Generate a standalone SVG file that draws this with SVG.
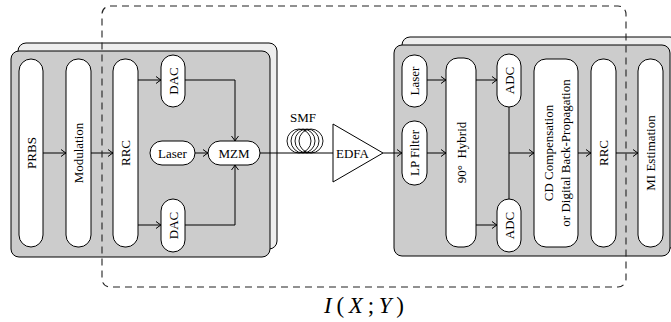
<svg xmlns="http://www.w3.org/2000/svg" width="671" height="322" viewBox="0 0 671 322">
<defs>
<style>
.back{fill:#eeeeee;stroke:#000;stroke-width:1}
.front{fill:#cccccc;stroke:#000;stroke-width:1}
.node{fill:#fff;stroke:#000;stroke-width:1}
.lbl{font-family:"Liberation Serif","Times New Roman",serif;font-size:13px;fill:#000}
.conn{fill:none;stroke:#000;stroke-width:1}
.dash{fill:none;stroke:#222;stroke-width:1.1;stroke-dasharray:7 5}
</style>
<marker id="arr" viewBox="-6 -5 8 10" markerWidth="8" markerHeight="10" refX="0" refY="0" orient="auto" markerUnits="userSpaceOnUse">
<path d="M-5,-3.5 Q-1.5,-0.8 0,0 Q-1.5,0.8 -5,3.5" fill="none" stroke="#000" stroke-width="1"/>
</marker>
</defs>

<g id="tx-panel">
<rect class="back" x="18" y="43" width="259" height="206" rx="8"/>
<rect class="front" x="11" y="51" width="259" height="206" rx="8"/>
</g>
<g id="rx-panel">
<rect class="back" x="402" y="37" width="276" height="211" rx="8"/>
<rect class="front" x="394" y="45" width="276" height="211" rx="8"/>
</g>

<g id="connectors">
<line class="conn" x1="43" y1="153" x2="66" y2="153" marker-end="url(#arr)"/>
<line class="conn" x1="91" y1="153" x2="113" y2="153" marker-end="url(#arr)"/>
<line class="conn" x1="138" y1="80" x2="161" y2="80" marker-end="url(#arr)"/>
<line class="conn" x1="138" y1="225" x2="161" y2="225" marker-end="url(#arr)"/>
<polyline class="conn" points="185,80 235,80 235,141" marker-end="url(#arr)"/>
<polyline class="conn" points="185,225 235,225 235,165" marker-end="url(#arr)"/>
<line class="conn" x1="195" y1="153" x2="208" y2="153" marker-end="url(#arr)"/>
<line class="conn" x1="260" y1="153" x2="333" y2="153"/>
<line class="conn" x1="383" y1="153" x2="402" y2="153" marker-end="url(#arr)"/>
<line class="conn" x1="427" y1="80" x2="446" y2="80" marker-end="url(#arr)"/>
<line class="conn" x1="427" y1="153" x2="446" y2="153" marker-end="url(#arr)"/>
<line class="conn" x1="476" y1="80" x2="497" y2="80" marker-end="url(#arr)"/>
<line class="conn" x1="476" y1="225" x2="497" y2="225" marker-end="url(#arr)"/>
<line class="conn" x1="509" y1="107" x2="509" y2="199"/>
<line class="conn" x1="509" y1="153" x2="534" y2="153" marker-end="url(#arr)"/>
<line class="conn" x1="578" y1="153" x2="591" y2="153" marker-end="url(#arr)"/>
<line class="conn" x1="616" y1="153" x2="638" y2="153" marker-end="url(#arr)"/>
</g>

<g id="prbs"><rect class="node" x="19" y="59" width="24" height="188" rx="12"/>
<text class="lbl" transform="translate(31,153) rotate(-90)" text-anchor="middle" dy="0.35em">PRBS</text></g>
<g id="modulation"><rect class="node" x="66" y="59" width="25" height="188" rx="12"/>
<text class="lbl" transform="translate(78.5,153) rotate(-90)" text-anchor="middle" dy="0.35em">Modulation</text></g>
<g id="rrc-tx"><rect class="node" x="113" y="59" width="25" height="188" rx="12"/>
<text class="lbl" transform="translate(125.5,153) rotate(-90)" text-anchor="middle" dy="0.35em">RRC</text></g>
<g id="dac-top"><rect class="node" x="161" y="55" width="24" height="52" rx="12"/>
<text class="lbl" transform="translate(173,81) rotate(-90)" text-anchor="middle" dy="0.35em">DAC</text></g>
<g id="dac-bottom"><rect class="node" x="161" y="199" width="24" height="53" rx="12"/>
<text class="lbl" transform="translate(173,225.5) rotate(-90)" text-anchor="middle" dy="0.35em">DAC</text></g>
<g id="laser-tx"><rect class="node" x="150" y="141" width="45" height="24" rx="12"/>
<text class="lbl" x="172.5" y="153" text-anchor="middle" dy="0.35em">Laser</text></g>
<g id="mzm"><rect class="node" x="208" y="141" width="52" height="24" rx="12"/>
<text class="lbl" x="234" y="153" text-anchor="middle" dy="0.35em">MZM</text></g>

<g id="smf">
<g fill="none" stroke="#000" stroke-width="0.9">
<circle cx="299" cy="141" r="12"/>
<circle cx="303" cy="141" r="12"/>
<circle cx="307" cy="141" r="12"/>
<circle cx="311" cy="141" r="12"/>
</g>
<text class="lbl" x="303" y="122" text-anchor="middle">SMF</text>
</g>

<g id="edfa"><polygon class="node" points="333,124 333,182 383,153"/>
<text class="lbl" x="352.5" y="158" text-anchor="middle">EDFA</text></g>

<g id="laser-rx"><rect class="node" x="402" y="55" width="25" height="52" rx="12"/>
<text class="lbl" transform="translate(414.5,81) rotate(-90)" text-anchor="middle" dy="0.35em">Laser</text></g>
<g id="lp-filter"><rect class="node" x="402" y="121" width="25" height="64" rx="12"/>
<text class="lbl" transform="translate(414.5,153) rotate(-90)" text-anchor="middle" dy="0.35em">LP Filter</text></g>
<g id="hybrid"><rect class="node" x="446" y="58" width="30" height="189" rx="12"/>
<text class="lbl" transform="translate(461,152.5) rotate(-90)" text-anchor="middle" dy="0.35em" xml:space="preserve">90°  Hybrid</text></g>
<g id="adc-top"><rect class="node" x="497" y="54" width="24" height="53" rx="12"/>
<text class="lbl" transform="translate(509,80.5) rotate(-90)" text-anchor="middle" dy="0.35em">ADC</text></g>
<g id="adc-bottom"><rect class="node" x="497" y="199" width="24" height="53" rx="12"/>
<text class="lbl" transform="translate(509,225.5) rotate(-90)" text-anchor="middle" dy="0.35em">ADC</text></g>
<g id="cd-comp"><rect class="node" x="534" y="59" width="44" height="188" rx="12"/>
<text class="lbl" transform="translate(548,153) rotate(-90)" text-anchor="middle" dy="0.35em">CD Compensation</text>
<text class="lbl" transform="translate(565,153) rotate(-90)" text-anchor="middle" dy="0.35em">or Digital Back-Propagation</text></g>
<g id="rrc-rx"><rect class="node" x="591" y="59" width="25" height="188" rx="12"/>
<text class="lbl" transform="translate(603.5,153) rotate(-90)" text-anchor="middle" dy="0.35em">RRC</text></g>
<g id="mi-est"><rect class="node" x="638" y="59" width="25" height="188" rx="12"/>
<text class="lbl" transform="translate(650.5,153) rotate(-90)" text-anchor="middle" dy="0.35em">MI Estimation</text></g>

<g id="mi-boundary">
<rect class="dash" x="102" y="6" width="524" height="281" rx="8"/>
<text x="364" y="313" text-anchor="middle" font-family="'Liberation Serif','Times New Roman',serif" font-size="23" textLength="80" lengthAdjust="spacing"><tspan font-style="italic">I</tspan>(<tspan font-style="italic">X</tspan>;<tspan font-style="italic">Y</tspan>)</text>
</g>
</svg>
